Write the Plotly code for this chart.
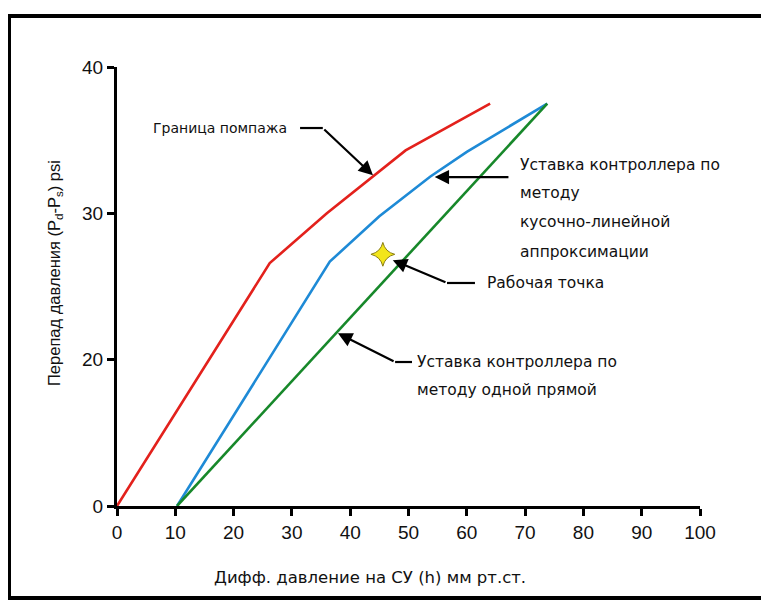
import plotly.graph_objects as go

# Data (y values on the visual axis scale: bottom of axis labelled "0" sits at 10)
surge_x = [0, 26.2, 36.0, 49.5, 64.0]
surge_y = [10, 26.6, 30.0, 34.3, 37.5]

piecewise_x = [10.3, 36.5, 45.0, 53.7, 60.0, 73.8]
piecewise_y = [10, 26.7, 29.8, 32.5, 34.2, 37.5]

single_x = [10.3, 73.8]
single_y = [10, 37.5]

op_x = [45.6]
op_y = [27.2]

x_ticks = [0, 10, 20, 30, 40, 50, 60, 70, 80, 90, 100]
y_tickvals = [10, 20, 30, 40]
y_ticktext = ["0", "20", "30", "40"]

FONT = "Liberation Sans, Arial, sans-serif"
LFONT = "DejaVu Sans, sans-serif"

fig = go.Figure()
fig.add_trace(go.Scatter(x=surge_x, y=surge_y, mode="lines",
                         line=dict(color="#e3211c", width=2.6), showlegend=False))
fig.add_trace(go.Scatter(x=piecewise_x, y=piecewise_y, mode="lines",
                         line=dict(color="#1e8ad6", width=2.6), showlegend=False))
fig.add_trace(go.Scatter(x=single_x, y=single_y, mode="lines",
                         line=dict(color="#17882a", width=2.6), showlegend=False))
fig.add_trace(go.Scatter(x=op_x, y=op_y, mode="markers",
                         marker=dict(symbol="star-diamond", size=17, color="#f2e51a",
                                     line=dict(color="#8a7d10", width=1)),
                         showlegend=False))

ann = []
def txt(size):
    return dict(font=dict(family=LFONT, size=size, color="#111"), showarrow=False,
                xref="x", yref="y")
# Text labels
ann.append(dict(text="Граница помпажа", x=29.5, y=35.83, xanchor="right", **txt(14)))
for i, line in enumerate(["Уставка контроллера по", "методу", "кусочно-линейной", "аппроксимации"]):
    ann.append(dict(text=line, x=68.8, y=10 + (506 - [165, 193, 222, 252][i]) / 14.633,
                    xanchor="left", **txt(15.5)))
ann.append(dict(text="Рабочая точка", x=63.1, y=25.24, xanchor="left", **txt(15.5)))
ann.append(dict(text="Уставка контроллера по", x=51.1, y=19.84, xanchor="left", **txt(15.5)))
ann.append(dict(text="методу одной прямой", x=51.1, y=17.93, xanchor="left", **txt(15.5)))

# Axis titles
ann.append(dict(text="Дифф. давление на СУ (h) мм рт.ст.", xref="paper", yref="paper",
                x=(370 - 117) / 583, y=(506 - 577) / 439, xanchor="center", yanchor="middle",
                showarrow=False, font=dict(family=LFONT, size=16.5, color="#111")))
ann.append(dict(text="Перепад давления (P<sub>d</sub>-P<sub>s</sub>) psi", xref="paper", yref="paper",
                x=(55 - 117) / 583, y=(506 - 273) / 439, xanchor="center", yanchor="middle",
                textangle=-90, showarrow=False, font=dict(family=FONT, size=16.5, color="#111")))

arrow = dict(text="", showarrow=True, arrowhead=2, arrowsize=1.3, arrowwidth=2.2,
             arrowcolor="black", xref="x", yref="y", axref="x", ayref="y")
ann.append(dict(x=43.9, y=32.6, ax=35.3, ay=35.83, **arrow))
ann.append(dict(x=54.5, y=32.48, ax=67.4, ay=32.48, **arrow))
ann.append(dict(x=47.3, y=26.8, ax=56.6, ay=25.24, **arrow))
ann.append(dict(x=37.9, y=21.8, ax=47.7, ay=19.84, **arrow))

shapes = [
    dict(type="line", xref="x", yref="y", x0=31.4, y0=35.83, x1=35.3, y1=35.83,
         line=dict(color="black", width=2.2)),
    dict(type="line", xref="x", yref="y", x0=56.6, y0=25.24, x1=61.4, y1=25.24,
         line=dict(color="black", width=2.2)),
    dict(type="line", xref="x", yref="y", x0=47.7, y0=19.84, x1=50.6, y1=19.84,
         line=dict(color="black", width=2.2)),
    # outer frame
    dict(type="rect", xref="paper", yref="paper",
         x0=(1 - 109) / 583, x1=(900 - 109) / 583,
         y0=(498 - 590) / 439, y1=(498 - 8) / 439,
         line=dict(color="black", width=4), fillcolor="rgba(0,0,0,0)", layer="above"),
]

fig.update_layout(
    width=761, height=593,
    margin=dict(l=109, r=69, t=59, b=95),
    paper_bgcolor="white", plot_bgcolor="white",
    annotations=ann, shapes=shapes,
    font=dict(family=FONT, color="#111"),
)
fig.update_xaxes(range=[0, 100], tickvals=x_ticks, showgrid=False, zeroline=False,
                 showline=True, linecolor="black", linewidth=3,
                 ticks="outside", ticklen=7, tickwidth=3, tickcolor="black",
                 tickfont=dict(size=19, family=FONT))
fig.update_yaxes(range=[10, 40], tickvals=y_tickvals, ticktext=y_ticktext,
                 showgrid=False, zeroline=False,
                 showline=True, linecolor="black", linewidth=3,
                 ticks="outside", ticklen=7, tickwidth=3, tickcolor="black",
                 tickfont=dict(size=19, family=FONT))

fig.write_html("out.html")
